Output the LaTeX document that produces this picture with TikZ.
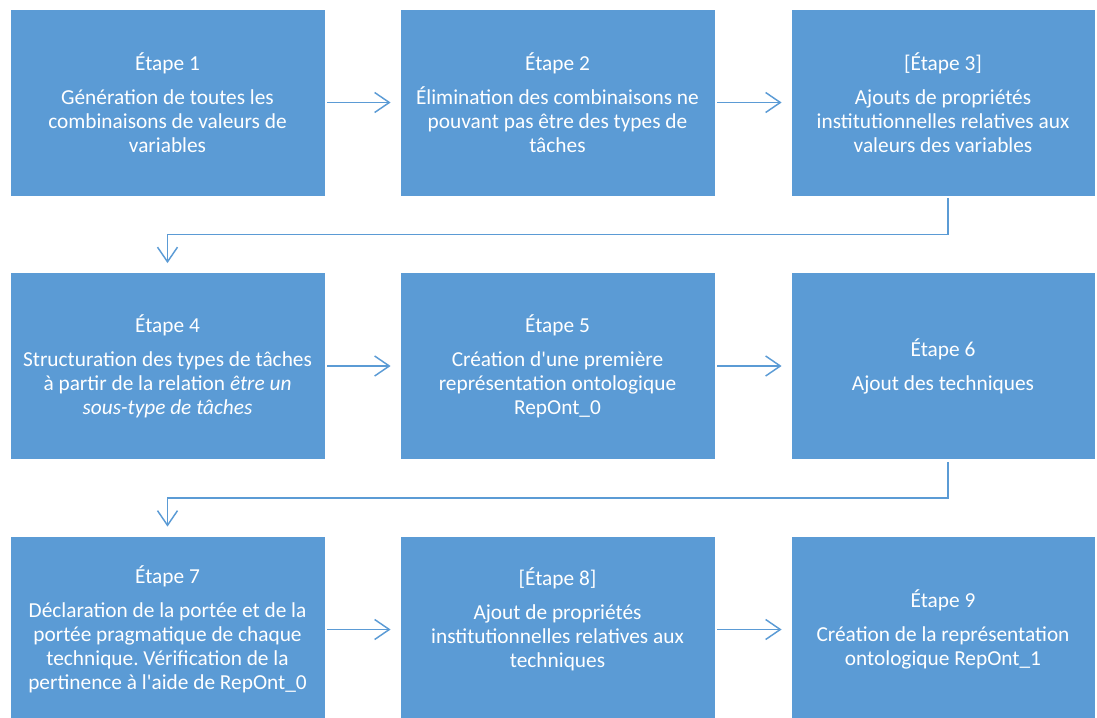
\documentclass[tikz,border=0pt]{standalone}
\usepackage{fontspec}
\setmainfont{Carlito}
\usetikzlibrary{positioning,calc,arrows.meta}
\definecolor{StepBlue}{RGB}{91,155,213}
\frenchspacing
\tikzset{
  etape/.style={rectangle,fill=StepBlue,draw=white,line width=0.6pt,text=white,
    align=center,font=\fontsize{16}{18}\selectfont,inner sep=0pt,
    minimum width=236.25pt,minimum height=140.25pt},
  flow/.style={draw=StepBlue,line width=1.1pt,
    -{Straight Barb[length=11pt,width=15pt]},
    shorten <=1.5pt,shorten >=6.75pt},
}
\newcommand{\etgap}{\\[7.5pt]}

\begin{document}
\begin{tikzpicture}[x=0.75pt,y=-0.75pt]
  \useasboundingbox (0,0) rectangle (1097,718);
  \clip (0,0) rectangle (1097,718);
  % row 1
  \node[etape] (e1) at (167.5,102.5)
    {Étape 1\etgap Génération de toutes les\\combinaisons de valeurs de\\variables};
  \node[etape] (e2) at (557.5,102.5)
    {Étape 2\etgap Élimination des combinaisons ne\\pouvant pas être des types de\\tâches};
  \node[etape,minimum width=228pt] (e3) at (943,102.5)
    {[Étape 3]\etgap Ajouts de propriétés\\institutionnelles relatives aux\\valeurs des variables};
  % row 2
  \node[etape] (e4) at (167.5,366)
    {Étape 4\etgap Structuration des types de tâches\\à partir de la relation \textit{être un}\\\textit{sous-type de tâches}};
  \node[etape] (e5) at (557.5,366)
    {Étape 5\etgap Création d\textquotesingle une première\\représentation ontologique\\RepOnt\_0};
  \node[etape,minimum width=228pt] (e6) at (943,366)
    {Étape 6\etgap Ajout des techniques};
  % row 3
  \node[etape] (e7) at (167.5,629.5)
    {Étape 7\etgap Déclaration de la portée et de la\\portée pragmatique de chaque\\technique. Vérification de la\\pertinence à l\textquotesingle aide de RepOnt\_0};
  \node[etape] (e8) at (557.5,629.5)
    {[Étape 8]\etgap Ajout de propriétés\\institutionnelles relatives aux\\techniques\\\mbox{}};
  \node[etape,minimum width=228pt] (e9) at (943,629.5)
    {Étape 9\etgap Création de la représentation\\ontologique RepOnt\_1};
  \foreach \a/\b in {e1/e2,e2/e3,e4/e5,e5/e6,e7/e8,e8/e9}
    \draw[flow] (\a) -- (\b);
  \draw[flow] ([xshift=3.75pt]e3.south) -- ++(0,38) -| (e4.north);
  \draw[flow] ([xshift=3.75pt]e6.south) -- ++(0,38) -| (e7.north);
\end{tikzpicture}
\end{document}
